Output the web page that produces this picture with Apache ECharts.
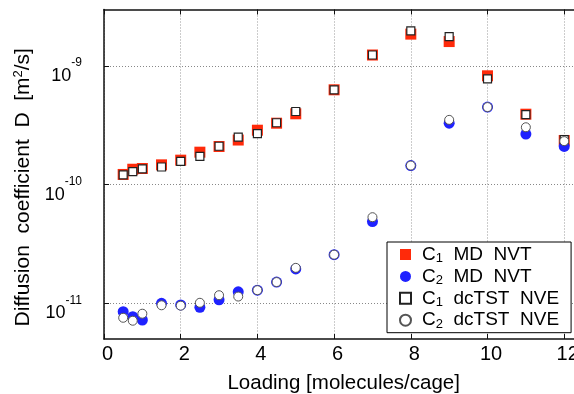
<!DOCTYPE html>
<html>
<head>
<meta charset="utf-8">
<script src="https://cdn.jsdelivr.net/npm/echarts@6/dist/echarts.min.js"></script>
<style>
  html, body { margin: 0; padding: 0; background: #fff; }
  #chart { width: 574px; height: 394px; }
</style>
</head>
<body>
<div id="chart"></div>
<script>
// Loading in molecules per cage
const loading = [0.5, 0.75, 1, 1.5, 2, 2.5, 3, 3.5, 4, 4.5, 5, 6, 7, 8, 9, 10, 11, 12];

// Self-diffusion coefficients, m^2/s
const c1MD  = [1.22e-10, 1.35e-10, 1.37e-10, 1.47e-10, 1.61e-10, 1.88e-10, 2.10e-10, 2.38e-10, 2.88e-10,
               3.30e-10, 3.96e-10, 6.31e-10, 1.24e-9, 1.86e-9, 1.61e-9, 8.28e-10, 3.93e-10, 2.36e-10];
const c2MD  = [8.49e-12, 7.71e-12, 7.23e-12, 1.00e-11, 9.68e-12, 9.25e-12, 1.07e-11, 1.25e-11, 1.29e-11,
               1.51e-11, 1.95e-11, 2.57e-11, 4.89e-11, 1.45e-10, 3.30e-10, 4.51e-10, 2.67e-10, 2.10e-10];
const c1TST = [1.21e-10, 1.29e-10, 1.36e-10, 1.41e-10, 1.57e-10, 1.73e-10, 2.11e-10, 2.52e-10, 2.69e-10,
               3.33e-10, 4.14e-10, 6.31e-10, 1.24e-9, 1.98e-9, 1.77e-9, 7.81e-10, 3.90e-10, 2.40e-10];
const c2TST = [7.55e-12, 7.13e-12, 8.17e-12, 9.62e-12, 9.55e-12, 1.01e-11, 1.17e-11, 1.14e-11, 1.29e-11,
               1.51e-11, 1.99e-11, 2.57e-11, 5.32e-11, 1.45e-10, 3.52e-10, 4.51e-10, 3.05e-10, 2.33e-10];

// Axis settings
const xTicks = [0, 2, 4, 6, 8, 10, 12];
const yDecades = [1e-11, 1e-10, 1e-9];
const xRange = [0, 12.5];
const yRange = [5e-12, 3e-9];

const FONT = '"Liberation Sans", Arial, sans-serif';

function pairs(xs, ys) { return xs.map((x, i) => [x, ys[i]]); }

const chart = echarts.init(document.getElementById('chart'), null, { renderer: 'canvas' });

const gridLine = { show: true, lineStyle: { color: '#999', type: [1, 2], width: 1 } };
const axisLine = { show: true, onZero: false, lineStyle: { color: '#111', width: 1.5 } };

const legendRich = {
  n:   { fontSize: 19, fontFamily: FONT, color: '#000', lineHeight: 21 },
  sub: { fontSize: 13, fontFamily: FONT, color: '#000', lineHeight: 13, verticalAlign: 'bottom' }
};

function legendLabel(name) {
  // "C1 MD NVT" -> C with subscript digit
  const idx = name.charAt(1);
  const rest = name.slice(2);
  return '{n|C}{sub|' + idx + '}{n|' + rest + '}';
}

chart.setOption({
  animation: false,
  backgroundColor: '#fff',
  // plot frame runs past the right edge of the canvas; keep it fixed
  grid: { left: 104, top: 9.5, width: 479.4, height: 329.5, containLabel: false, outerBoundsMode: 'none' },
  xAxis: [{
    type: 'value',
    min: xRange[0], max: xRange[1], interval: 2,
    position: 'bottom',
    axisLine: axisLine,
    axisTick: { show: true, inside: true, length: 5, lineStyle: { color: '#111', width: 1 }, customValues: xTicks },
    axisLabel: { show: true, customValues: xTicks, margin: 5, fontSize: 20, fontFamily: FONT, color: '#000', padding: [0, 0, 0, 7] },
    splitLine: gridLine,
    name: 'Loading [molecules/cage]',
    nameLocation: 'middle', nameGap: 34,
    nameTextStyle: { fontSize: 20.5, fontFamily: FONT, color: '#000' }
  }, {
    type: 'value',
    min: xRange[0], max: xRange[1], interval: 2,
    position: 'top',
    axisLine: axisLine,
    axisTick: { show: true, inside: true, length: 5, lineStyle: { color: '#111', width: 1 }, customValues: xTicks },
    axisLabel: { show: false },
    splitLine: { show: false }
  }],
  yAxis: [{
    type: 'log',
    logBase: 10,
    min: yRange[0], max: yRange[1],
    axisLine: axisLine,
    axisTick: { show: true, inside: true, length: 5, lineStyle: { color: '#111', width: 1 }, customValues: yDecades },
    axisLabel: {
      show: true, customValues: yDecades, margin: 22,
      formatter: function (v) {
        const e = Math.round(Math.log10(v));
        return '{b|10}{s|' + e + '}';
      },
      rich: {
        b: { fontSize: 18, fontFamily: FONT, color: '#000', lineHeight: 18, padding: [10, 0, 0, 0], verticalAlign: 'top' },
        s: { fontSize: 12, fontFamily: FONT, color: '#000', lineHeight: 12, padding: [0, 0, 20, 0], verticalAlign: 'top' }
      }
    },
    splitLine: { show: true, lineStyle: { color: '#888', type: [1, 2], width: 1 } },
    name: '{t|Diffusion  coefficient  D  [m}{p|2}{t|/s]}',
    nameLocation: 'middle', nameGap: 52, nameRotate: 90,
    nameTextStyle: {
      padding: [0, 26, 0, 0],
      rich: {
        t: { fontSize: 21, fontFamily: FONT, color: '#000', lineHeight: 22, verticalAlign: 'bottom' },
        p: { fontSize: 13, fontFamily: FONT, color: '#000', lineHeight: 22, verticalAlign: 'top', padding: [0, 0, 8, 0] }
      }
    }
  }],
  legend: {
    orient: 'vertical',
    left: 387, top: 242,
    padding: [3, 12, 2, 12],
    itemGap: 1.9,
    itemWidth: 11, itemHeight: 11,
    borderColor: '#000', borderWidth: 1, borderRadius: 0,
    backgroundColor: '#fff',
    selectedMode: false,
    formatter: legendLabel,
    textStyle: { rich: legendRich, padding: [0, 0, 0, 6] },
    data: ['C1  MD  NVT', 'C2  MD  NVT', 'C1  dcTST  NVE', 'C2  dcTST  NVE']
  },
  series: [
    {
      name: 'C1  MD  NVT', type: 'scatter', symbol: 'rect', symbolSize: 11,
      itemStyle: { color: '#ff2a0a', opacity: 1 },
      data: pairs(loading, c1MD), z: 2
    },
    {
      name: 'C2  MD  NVT', type: 'scatter', symbol: 'circle', symbolSize: 11,
      itemStyle: { color: '#1f22ff', opacity: 1 },
      data: pairs(loading, c2MD), z: 2
    },
    {
      name: 'C1  dcTST  NVE', type: 'scatter', symbol: 'rect', symbolSize: 8,
      itemStyle: { color: '#fff', borderColor: '#222', borderWidth: 1.2, opacity: 1 },
      data: pairs(loading, c1TST), z: 3
    },
    {
      name: 'C2  dcTST  NVE', type: 'scatter', symbol: 'circle', symbolSize: 9,
      itemStyle: { color: '#fff', borderColor: '#555', borderWidth: 1, opacity: 1 },
      data: pairs(loading, c2TST), z: 3
    }
  ]
});
</script>
</body>
</html>
